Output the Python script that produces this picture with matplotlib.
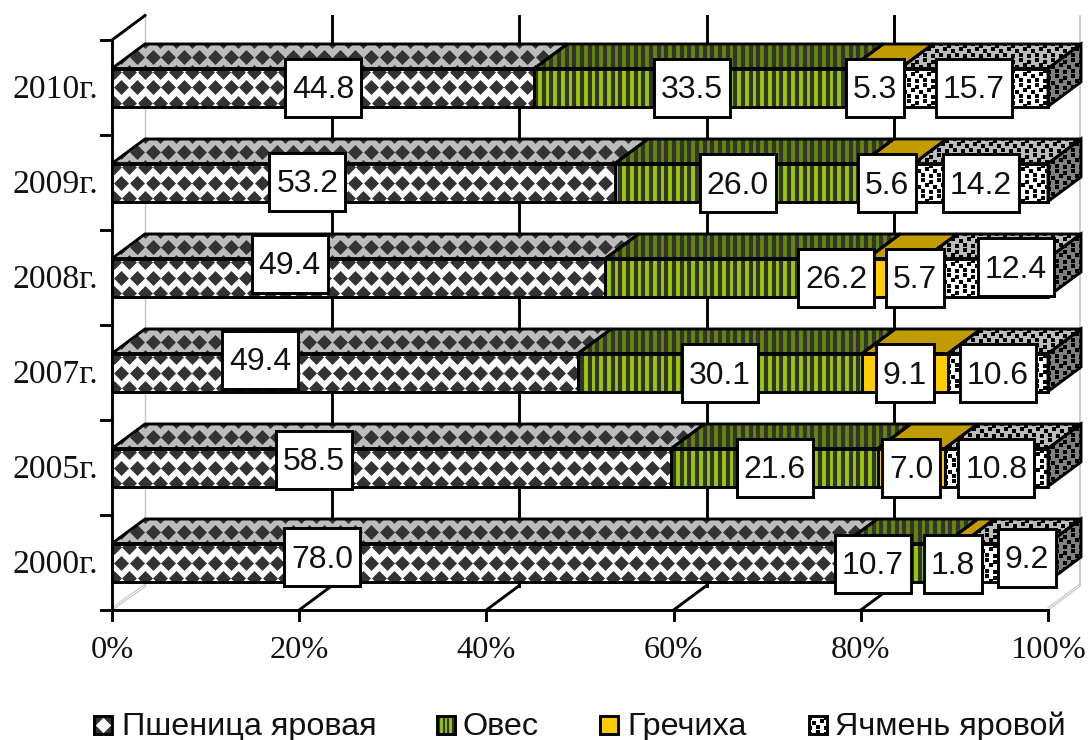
import numpy as np
import matplotlib
matplotlib.use("Agg")
import matplotlib.pyplot as plt
from matplotlib.patches import Polygon, Rectangle

# =========================
# data
# =========================
YEARS = ["2000г.", "2005г.", "2007г.", "2008г.", "2009г.", "2010г."]
SERIES = ["Пшеница яровая", "Овес", "Гречиха", "Ячмень яровой"]
WHEAT = [78.0, 58.5, 49.4, 49.4, 53.2, 44.8]
OATS = [10.7, 21.6, 30.1, 26.2, 26.0, 33.5]
BUCKWHEAT = [1.8, 7.0, 9.1, 5.7, 5.6, 5.3]
BARLEY = [9.2, 10.8, 10.6, 12.4, 14.2, 15.7]
XTICKS = [0, 20, 40, 60, 80, 100]

# =========================
# layout (pixels of the 1088x740 picture)
# =========================
X0, X100 = 112, 1048
Y_FLOOR, CAT_H, BAR_H = 610, 95, 38
DX, DY = 33, -24.5
LW = 2.1
DARK = "#333333"

# data labels that were dragged away from the middle of their segment
# (year index, series index) -> (dx, dy)
LABEL_SHIFT = {
    (0, 0): (-156, -6), (0, 1): (-22, 1), (0, 2): (0, 1), (0, 3): (22, -5),
    (1, 0): (-78, -8),
    (2, 0): (-85, -13),
    (3, 0): (-69, -14), (3, 1): (100, 0), (3, 2): (19, 0), (3, 3): (30, -11),
    (4, 0): (-56, -1),
}

DOT_TILE = [(1, 2), (9, 0), (13, 5), (5, 7), (1, 12), (9, 11)]

plt.rcParams["font.family"] = ["Liberation Sans", "DejaVu Sans"]
SERIF = ["Liberation Serif", "DejaVu Serif"]


def px(pct):
    return X0 + (X100 - X0) * pct / 100.0


def bbox_of(pts):
    pts = np.asarray(pts)
    return pts[:, 0].min(), pts[:, 0].max(), pts[:, 1].min(), pts[:, 1].max()


def pattern_diamonds(ax, patch, pts, color, anchor_y, size=58):
    x1, x2, y1, y2 = bbox_of(pts)
    step = 15.6
    xs, ys = [], []
    for i, row in enumerate(np.arange(anchor_y - 2 * step, y2 + step, step)):
        shift = 0 if i % 2 == 0 else step / 2
        for x in np.arange(X0 + 9.4 - 2 * step + shift, x2 + step, step):
            if row >= y1 - step and x >= x1 - step:
                xs.append(x)
                ys.append(row)
    sc = ax.scatter(xs, ys, marker="D", s=size, c=color, linewidths=0, zorder=patch.get_zorder())
    sc.set_clip_path(patch)


def pattern_stripes(ax, patch, pts, color):
    x1, x2, y1, y2 = bbox_of(pts)
    start = X0 + 2.2
    for x in np.arange(start, x2 + 8, 7.67):
        if x >= x1 - 8:
            ln = ax.vlines(x, y1, y2, colors=color, linewidth=3.0, zorder=patch.get_zorder())
            ln.set_clip_path(patch)


def pattern_dots(ax, patch, pts):
    x1, x2, y1, y2 = bbox_of(pts)
    xs, ys = [], []
    for gx in np.arange(x1 - 16, x2 + 16, 16):
        for gy in np.arange(y1 - 16, y2 + 16, 16):
            for tx, ty in DOT_TILE:
                xs.append(gx + tx)
                ys.append(gy + ty)
    sc = ax.scatter(xs, ys, marker="s", s=4.8, c="black", linewidths=0, zorder=patch.get_zorder())
    sc.set_clip_path(patch)


def face(ax, pts, bg, kind, dark=DARK, anchor_y=0, z=3, outline=True, lw=LW):
    patch = Polygon(pts, closed=True, facecolor=bg, edgecolor="none", zorder=z)
    ax.add_patch(patch)
    if kind == "diamond":
        pattern_diamonds(ax, patch, pts, dark, anchor_y)
    elif kind == "stripe":
        pattern_stripes(ax, patch, pts, dark)
    elif kind == "dots":
        pattern_dots(ax, patch, pts)
    if outline:
        ax.add_patch(Polygon(pts, closed=True, facecolor="none", edgecolor="black",
                             linewidth=lw, joinstyle="miter", zorder=z + 0.5))


def draw_walls(ax):
    y_top = Y_FLOOR - CAT_H * len(YEARS)
    grey = "#c4c4c4"
    # grey edges of the walls and of the floor
    ax.plot([X0 + DX, X0 + DX], [y_top + DY, Y_FLOOR + DY], color=grey, lw=1.0, zorder=1)
    ax.plot([X100 + DX - 1.5, X100 + DX - 1.5], [y_top + DY, Y_FLOOR + DY], color=grey, lw=1.2, zorder=1)
    for off in (-1.2, 1.2):
        ax.plot([X0, X0 + DX], [Y_FLOOR + off - 1, Y_FLOOR + DY + off], color=grey, lw=0.8, zorder=1)
        ax.plot([X100, X100 + DX - 1.5], [Y_FLOOR + off - 1, Y_FLOOR + DY + off], color=grey, lw=0.8, zorder=1)
    # gridlines on the back wall and on the floor
    for t in XTICKS[1:-1]:
        x = px(t)
        ax.plot([x + DX, x + DX], [y_top + DY, Y_FLOOR + DY], color="black", lw=LW, zorder=1.5)
        ax.plot([x, x + DX], [Y_FLOOR, Y_FLOOR + DY], color="black", lw=LW, zorder=1.5)
    # axis lines
    ax.plot([X0, X0], [y_top, Y_FLOOR], color="black", lw=LW, zorder=6)
    ax.plot([X0, X0 + DX], [y_top, y_top + DY], color="black", lw=LW, zorder=6)
    ax.plot([X0, X100], [Y_FLOOR, Y_FLOOR], color="black", lw=LW, zorder=6)
    for t in XTICKS:
        ax.plot([px(t), px(t)], [Y_FLOOR, Y_FLOOR + 10], color="black", lw=LW, zorder=6)
        ax.text(px(t), 658, f"{t}%", family=SERIF, fontsize=23.3, ha="center", va="baseline", color="#111111")
    for i in range(len(YEARS) + 1):
        y = Y_FLOOR - i * CAT_H
        ax.plot([X0 - 11, X0], [y, y], color="black", lw=LW, zorder=6)
    for i, name in enumerate(YEARS):
        yc = Y_FLOOR - (i + 0.5) * CAT_H
        ax.text(98, yc + 10.5, name, family=SERIF, fontsize=24.2, ha="right", va="baseline", color="#111111")


def draw_bars(ax, table):
    styles = [
        ("white", "#bcbcbc", "diamond", DARK),
        ("#99cc00", "#668800", "stripe", DARK),
        ("#ffcc00", "#c09c00", None, DARK),
        ("white", "#bcbcbc", "dots", "black"),
    ]
    labels = []
    for i in range(len(YEARS)):
        yc = Y_FLOOR - (i + 0.5) * CAT_H
        top, bot = yc - BAR_H / 2, yc + BAR_H / 2
        row = table[:, i]
        total = row.sum()
        left = 0.0
        for j, val in enumerate(row):
            share = val / total * 100
            xa, xb = px(left), px(left + share)
            front = [(xa, top), (xb, top), (xb, bot), (xa, bot)]
            roof = [(xa, top), (xa + DX, top + DY), (xb + DX, top + DY), (xb, top)]
            bg, bg_top, kind, dark = styles[j]
            face(ax, roof, bg_top, kind, dark, anchor_y=top + DY + 12.5)
            face(ax, front, bg, kind, dark, anchor_y=yc)
            if j == len(row) - 1:
                side = [(xb, top), (xb + DX, top + DY), (xb + DX, bot + DY), (xb, bot)]
                face(ax, side, "#808080", "dots")
            sx, sy = LABEL_SHIFT.get((i, j), (0, 0))
            labels.append((px(left + share / 2) + sx, yc + sy, val))
            left += share
    for x, y, val in labels:
        text = f"{val:.1f}"
        w = 76 if len(text) == 4 else 58
        ax.add_patch(Rectangle((x - w / 2, y - 29), w, 58, facecolor="white", edgecolor="black",
                               linewidth=LW, joinstyle="miter", zorder=8))
        ax.text(x, y + 11, text, fontsize=23, ha="center", va="baseline", color="#111111", zorder=9)


def draw_legend(ax):
    keys = [(94, 122), (437, 463), (600, 627), (809, 835)]
    fills = [("white", "diamond", DARK), ("#99cc00", "stripe", DARK), ("#ffcc00", None, DARK), ("white", "dots", "black")]
    for (kx, tx), name, (bg, kind, dark) in zip(keys, SERIES, fills):
        pts = [(kx, 716), (kx + 18, 716), (kx + 18, 734), (kx, 734)]
        patch = Polygon(pts, closed=True, facecolor=bg, edgecolor="none", zorder=3)
        ax.add_patch(patch)
        if kind == "diamond":
            sc = ax.scatter([kx, kx + 18, kx, kx + 18], [716, 716, 734, 734], marker="D", s=110,
                            c=dark, linewidths=0, zorder=3)
            sc.set_clip_path(patch)
        elif kind == "stripe":
            for x in np.arange(kx + 2, kx + 19, 4.5):
                ln = ax.vlines(x, 716, 734, colors=dark, linewidth=1.6, zorder=3)
                ln.set_clip_path(patch)
        elif kind == "dots":
            pattern_dots(ax, patch, pts)
        ax.add_patch(Polygon(pts, closed=True, facecolor="none", edgecolor="black",
                             linewidth=LW, joinstyle="miter", zorder=4))
        ax.text(tx, 735, name, fontsize=23.3, ha="left", va="baseline", color="#111111")


def main():
    table = np.array([WHEAT, OATS, BUCKWHEAT, BARLEY], dtype=float)

    fig = plt.figure(figsize=(10.88, 7.40), dpi=100)
    ax = fig.add_axes([0, 0, 1, 1])
    ax.set_xlim(0, 1088)
    ax.set_ylim(740, 0)
    ax.axis("off")

    draw_walls(ax)
    draw_bars(ax, table)
    draw_legend(ax)

    fig.savefig("out.png", dpi=100, facecolor="white")
    plt.close(fig)


if __name__ == "__main__":
    main()
